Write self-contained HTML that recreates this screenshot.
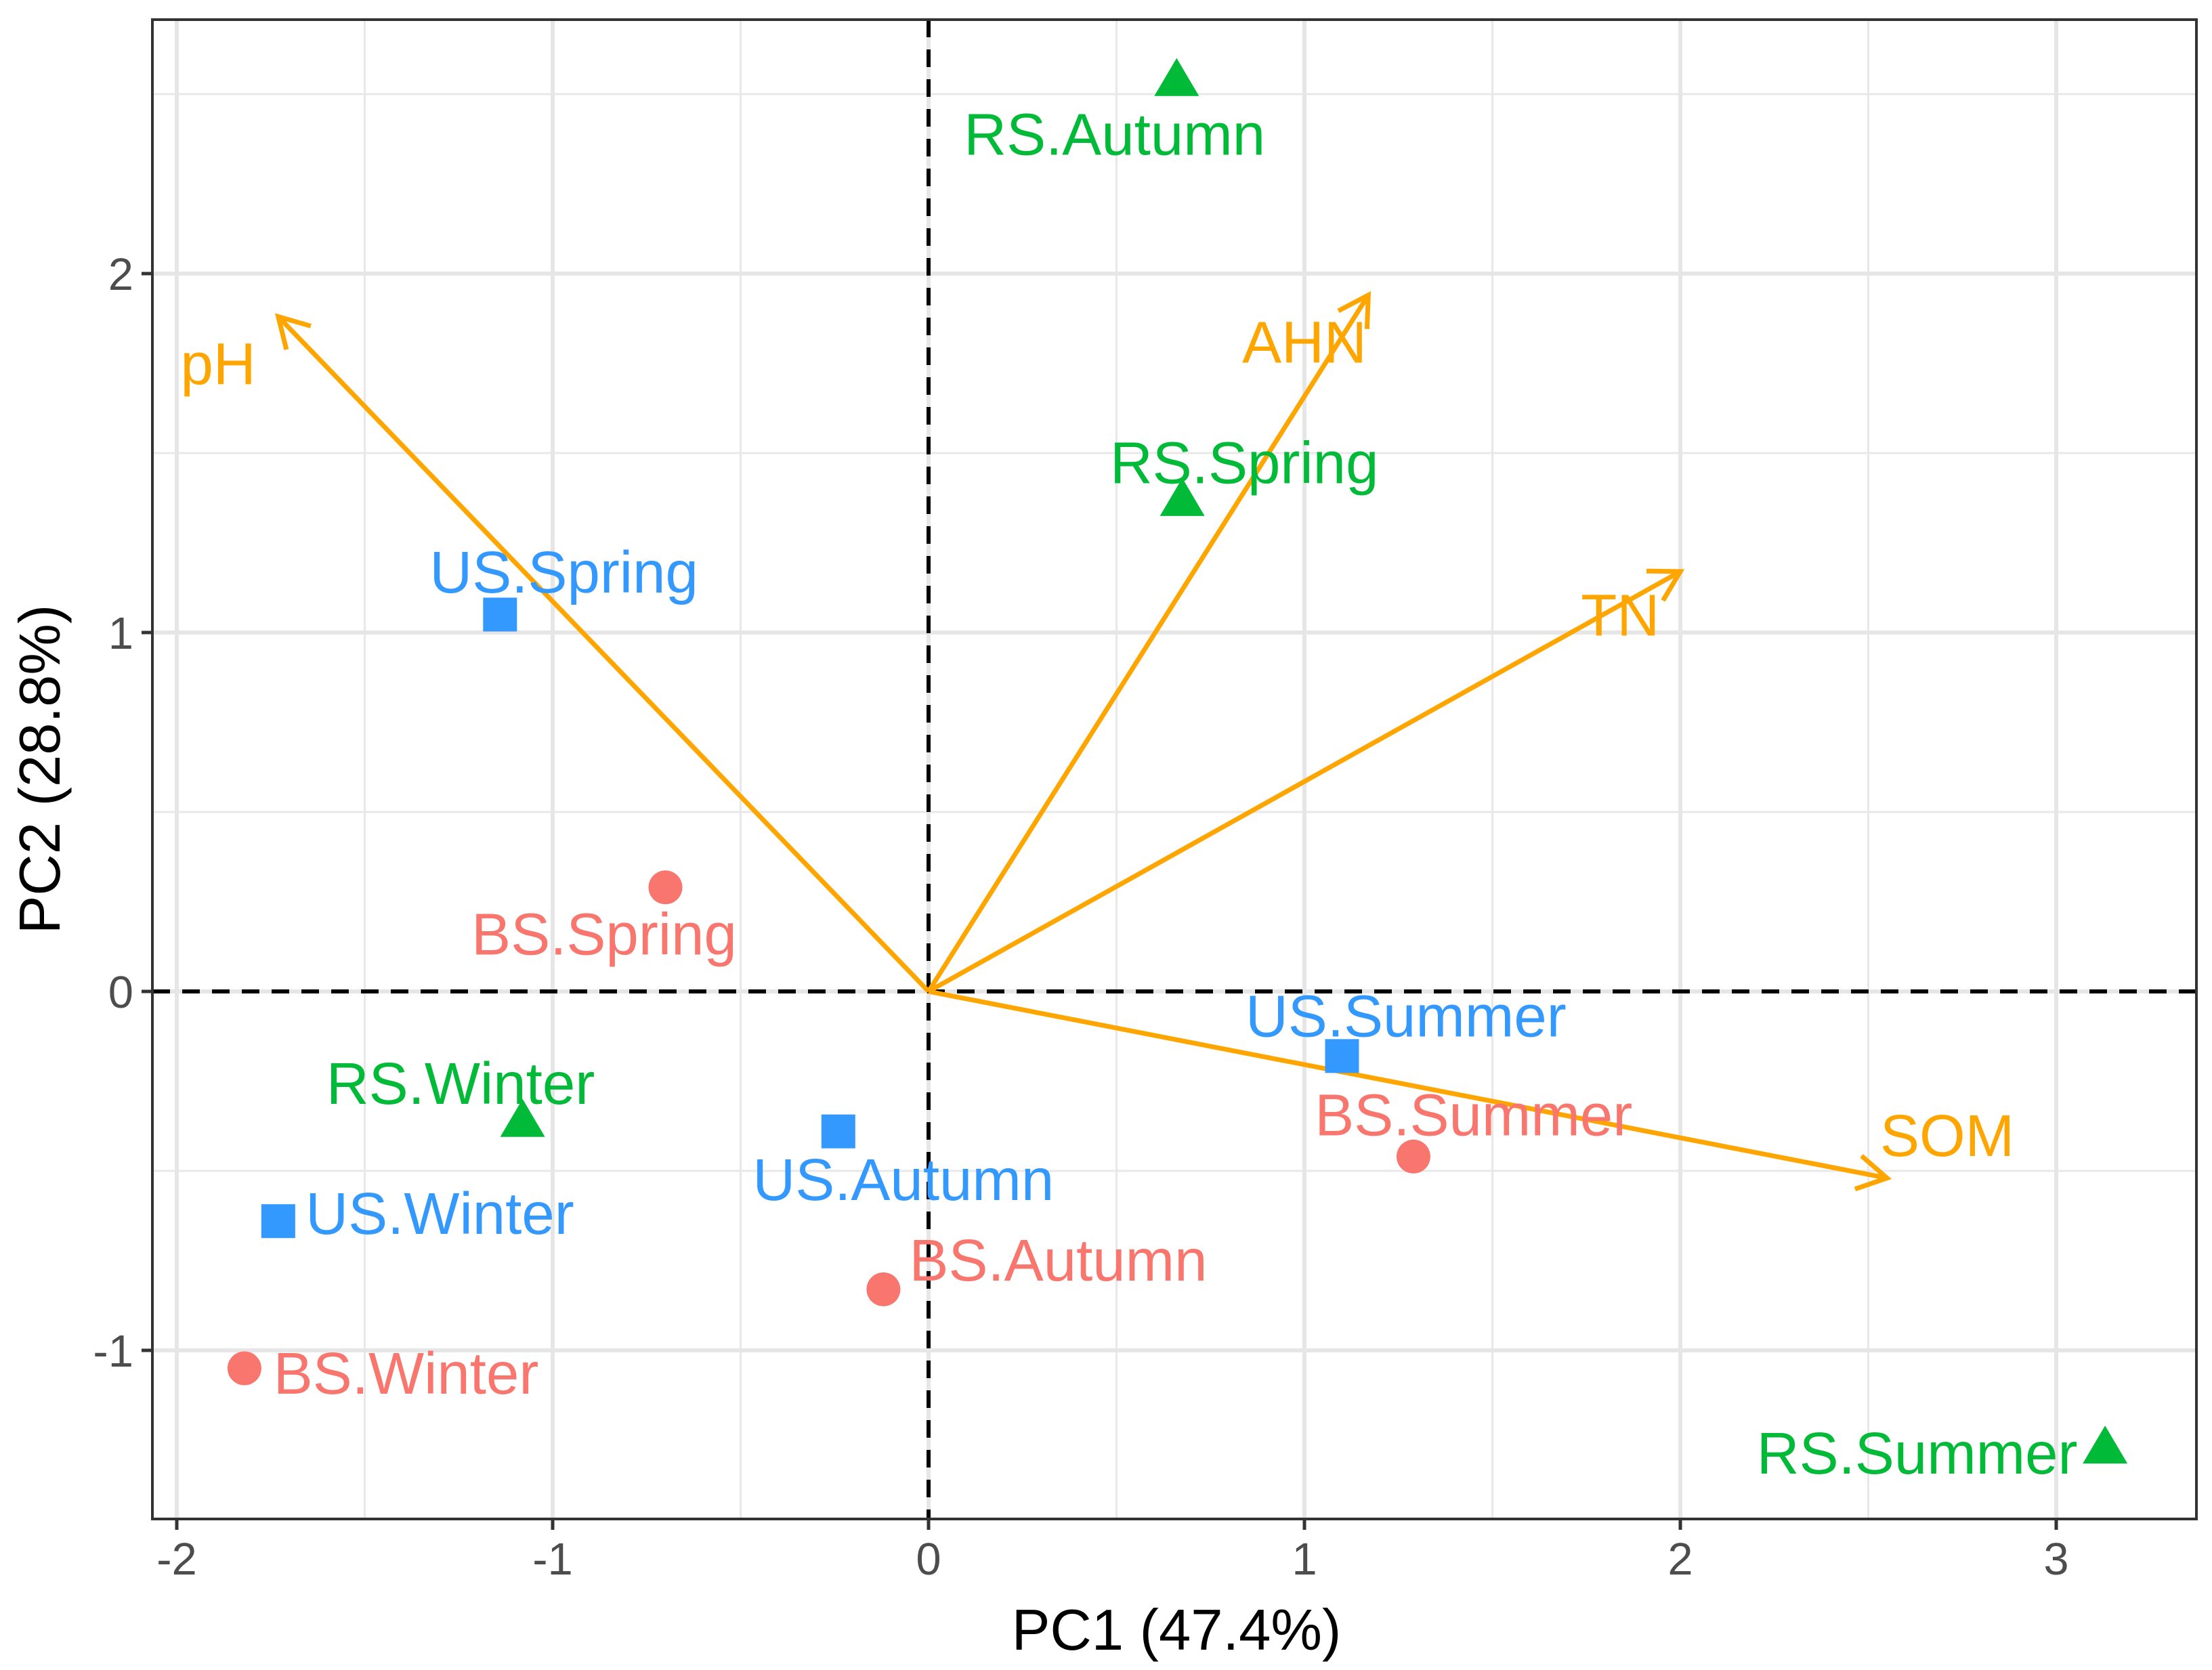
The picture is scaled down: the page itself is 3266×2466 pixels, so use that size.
<!DOCTYPE html>
<html><head><meta charset="utf-8"><style>
html,body{margin:0;padding:0;background:#fff;}
svg{display:block;font-family:"Liberation Sans",Arial,sans-serif;}
</style></head><body>
<svg id="chart" width="3266" height="2466" viewBox="0 0 3266 2466" xmlns="http://www.w3.org/2000/svg"></svg>
<script>
const xTicks = [-2, -1, 0, 1, 2, 3];
const yTicks = [-1, 0, 1, 2];
const xTickLabels = ["-2", "-1", "0", "1", "2", "3"];
const yTickLabels = ["-1", "0", "1", "2"];
const xMinor = [-1.5, -0.5, 0.5, 1.5, 2.5];
const yMinor = [-0.5, 0.5, 1.5, 2.5];
const pointNames = ["RS.Autumn","RS.Spring","RS.Winter","RS.Summer","US.Spring","US.Summer","US.Autumn","US.Winter","BS.Spring","BS.Summer","BS.Autumn","BS.Winter"];
const pointGroup = ["RS","RS","RS","RS","US","US","US","US","BS","BS","BS","BS"];
const pointX = [0.66, 0.675, -1.08, 3.13, -1.14, 1.10, -0.24, -1.73, -0.70, 1.29, -0.12, -1.82];
const pointY = [2.54, 1.37, -0.36, -1.27, 1.05, -0.18, -0.39, -0.64, 0.29, -0.46, -0.83, -1.05];
const labelX = [0.495, 0.84, -1.245, 2.63, -0.97, 1.27, -0.067, -1.30, -0.863, 1.45, 0.345, -1.39];
const labelY = [2.39, 1.475, -0.255, -1.285, 1.17, -0.067, -0.523, -0.617, 0.161, -0.342, -0.747, -1.062];
const arrowNames = ["pH", "AHN", "TN", "SOM"];
const arrowX = [-1.73, 1.17, 2.0, 2.55];
const arrowY = [1.88, 1.94, 1.17, -0.52];
const arrowLabelX = [-1.89, 1.0, 1.84, 2.71];
const arrowLabelY = [1.75, 1.81, 1.05, -0.40];

const NS = "http://www.w3.org/2000/svg";
const svg = document.getElementById("chart");
const L = 225, R = 3243, T = 29, B = 2243;
const X0 = 1371, XU = 555, Y0 = 1464, YU = 530;
const sx = v => X0 + v * XU;
const sy = v => Y0 - v * YU;
const colors = {RS: "#00BA38", US: "#3399FF", BS: "#F8766D"};
const orange = "#FFA500";
const FS = 87;
function mk(tag, attrs, parent) {
  const e = document.createElementNS(NS, tag);
  for (const k in attrs) e.setAttribute(k, attrs[k]);
  (parent || svg).appendChild(e);
  return e;
}
let e;
e = mk("rect", {x: L, y: T, width: R - L, height: B - T, fill: "#fff"});


const grid = mk("g", {});


xMinor.forEach(v => { mk("line", {x1: sx(v), x2: sx(v), y1: T, y2: B, stroke: "#e8e8e8", "stroke-width": 3}, grid); });
yMinor.forEach(v => { mk("line", {x1: L, x2: R, y1: sy(v), y2: sy(v), stroke: "#e8e8e8", "stroke-width": 3}, grid); });
xTicks.forEach(v => { mk("line", {x1: sx(v), x2: sx(v), y1: T, y2: B, stroke: "#e6e6e6", "stroke-width": 6}, grid); });
yTicks.forEach(v => { mk("line", {x1: L, x2: R, y1: sy(v), y2: sy(v), stroke: "#e6e6e6", "stroke-width": 6}, grid); });
e = mk("line", {x1: sx(0), x2: sx(0), y1: T, y2: B, stroke: "#000", "stroke-width": 6, "stroke-dasharray": "26 18"});


e = mk("line", {x1: L, x2: R, y1: sy(0), y2: sy(0), stroke: "#000", "stroke-width": 6, "stroke-dasharray": "26 18"});



arrowNames.forEach((n, i) => {
  const g = mk("g", {});
  
  
  const x1 = sx(0), y1 = sy(0), x2 = sx(arrowX[i]), y2 = sy(arrowY[i]);
  mk("line", {x1, y1, x2, y2, stroke: orange, "stroke-width": 7}, g);
  const ang = Math.atan2(y2 - y1, x2 - x1), hl = 50, ha = Math.PI / 6;
  const p = [[x2 - hl * Math.cos(ang - ha), y2 - hl * Math.sin(ang - ha)], [x2, y2], [x2 - hl * Math.cos(ang + ha), y2 - hl * Math.sin(ang + ha)]];
  mk("polyline", {points: p.map(q => q.join(",")).join(" "), fill: "none", stroke: orange, "stroke-width": 7}, g);
  const t = mk("text", {x: sx(arrowLabelX[i]), y: sy(arrowLabelY[i]) + 31, "text-anchor": "middle", "font-size": FS, fill: orange}, g);
  t.textContent = n;
});

pointNames.forEach((n, i) => {
  const g = mk("g", {});
  
  
  const c = colors[pointGroup[i]], x = sx(pointX[i]), y = sy(pointY[i]);
  if (pointGroup[i] === "BS") mk("circle", {cx: x, cy: y, r: 25, fill: c}, g);
  else if (pointGroup[i] === "US") mk("rect", {x: x - 25, y: y - 25, width: 50, height: 50, fill: c}, g);
  else mk("polygon", {points: `${x},${y - 32} ${x + 33},${y + 24} ${x - 33},${y + 24}`, fill: c}, g);
  const t = mk("text", {x: sx(labelX[i]), y: sy(labelY[i]) + 31, "text-anchor": "middle", "font-size": FS, fill: c}, g);
  t.textContent = n;
});

e = mk("rect", {x: L, y: T, width: R - L, height: B - T, fill: "none", stroke: "#333", "stroke-width": 4});



const xa = mk("g", {});


xTicks.forEach((v, i) => {
  mk("line", {x1: sx(v), x2: sx(v), y1: B, y2: B + 16, stroke: "#333", "stroke-width": 5}, xa);
  const t = mk("text", {x: sx(v), y: B + 82, "text-anchor": "middle", "font-size": 67, fill: "#4d4d4d"}, xa);
  t.textContent = xTickLabels[i];
});
const ya = mk("g", {});


yTicks.forEach((v, i) => {
  mk("line", {x1: L - 16, x2: L, y1: sy(v), y2: sy(v), stroke: "#333", "stroke-width": 5}, ya);
  const t = mk("text", {x: L - 28, y: sy(v) + 24, "text-anchor": "end", "font-size": 67, fill: "#4d4d4d"}, ya);
  t.textContent = yTickLabels[i];
});
e = mk("text", {x: 1737, y: 2436, "text-anchor": "middle", "font-size": 85, fill: "#000"});
e.textContent = "PC1 (47.4%)";


e = mk("text", {x: 0, y: 0, "text-anchor": "middle", "font-size": 85, fill: "#000", transform: "translate(88,1136) rotate(-90)"});
e.textContent = "PC2 (28.8%)";


</script>
</body></html>
